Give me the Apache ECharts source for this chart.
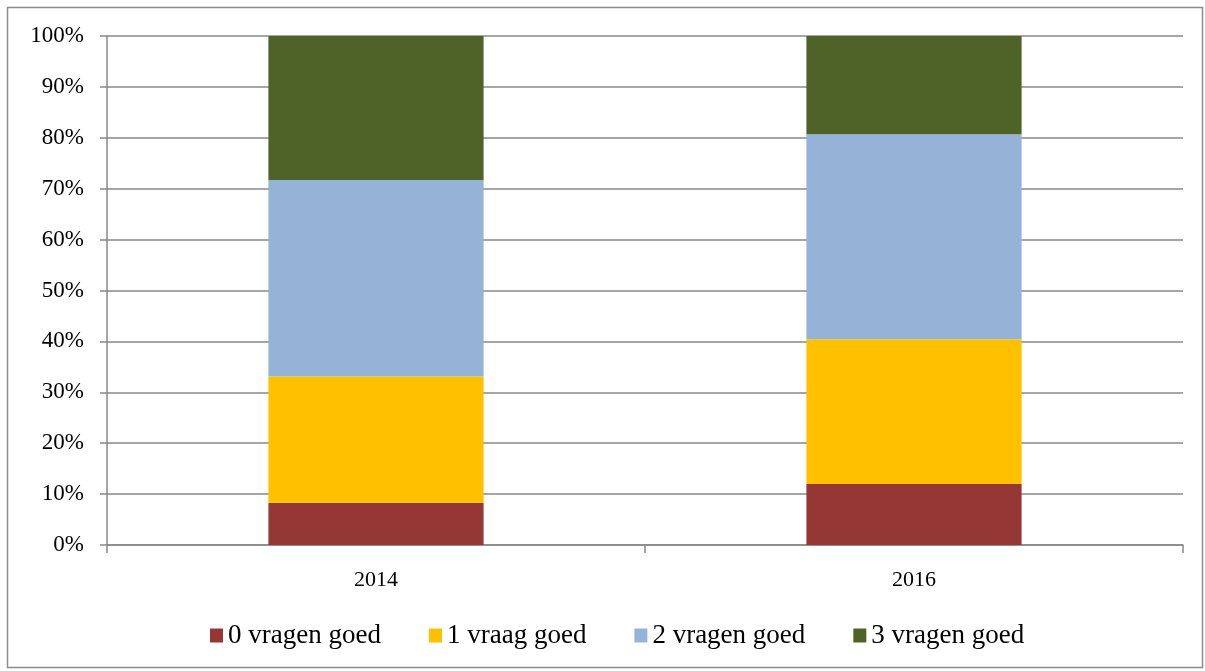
<!DOCTYPE html>
<html>
<head>
<meta charset="utf-8">
<script src="https://cdn.jsdelivr.net/npm/echarts@6/dist/echarts.min.js"></script>
<style>
  html, body { margin: 0; padding: 0; background: #fff; }
  #chart { width: 1205px; height: 671px; }
</style>
</head>
<body>
<div id="chart"></div>
<script>
var years = ['2014', '2016'];
var seriesNames = ['0 vragen goed', '1 vraag goed', '2 vragen goed', '3 vragen goed'];
var zeroGood = [8.3, 12.0];
var oneGood = [24.8, 28.4];
var twoGood = [38.6, 40.3];
var threeGood = [28.3, 19.3];
var colors = ['#953735', '#FFC000', '#95B3D7', '#4F6228'];

var font = '"Liberation Serif", "DejaVu Serif", serif';
var values = [zeroGood, oneGood, twoGood, threeGood];

var chart = echarts.init(document.getElementById('chart'));
var option = {
    animation: false,
    textStyle: { fontFamily: font },
    graphic: [{
        type: 'rect',
        shape: { x: 7.5, y: 7.5, width: 1195, height: 660 },
        style: { fill: 'none', stroke: '#8c8c8c', lineWidth: 1.5 }
    }],
    grid: { left: 107, right: 22, top: 36, bottom: 126 },
    legend: {
        top: 617,
        left: 205,
        itemWidth: 13,
        itemHeight: 14,
        itemGap: 48,
        icon: 'rect',
        textStyle: { fontSize: 27, color: '#000', fontFamily: font },
        data: seriesNames
    },
    xAxis: {
        type: 'category',
        data: years,
        axisLine: { lineStyle: { color: '#888', width: 1.5 } },
        axisTick: { show: true, length: 8, lineStyle: { color: '#888', width: 1.5 } },
        axisLabel: { fontSize: 22, color: '#000', margin: 24, fontFamily: font }
    },
    yAxis: {
        type: 'value',
        min: 0,
        max: 100,
        interval: 10,
        axisLine: { show: true, lineStyle: { color: '#888', width: 1.5 } },
        axisTick: { show: true, length: 7, lineStyle: { color: '#888', width: 1.5 } },
        splitLine: { lineStyle: { color: '#888', width: 1.5 } },
        axisLabel: {
            fontSize: 23, color: '#000', margin: 23, fontFamily: font,
            formatter: '{value}%'
        }
    },
    series: seriesNames.map(function (name, i) {
        return {
            name: name,
            type: 'bar',
            stack: 'total',
            barWidth: '40%',
            itemStyle: { color: colors[i] },
            data: values[i]
        };
    })
};
chart.setOption(option);
</script>
</body>
</html>
